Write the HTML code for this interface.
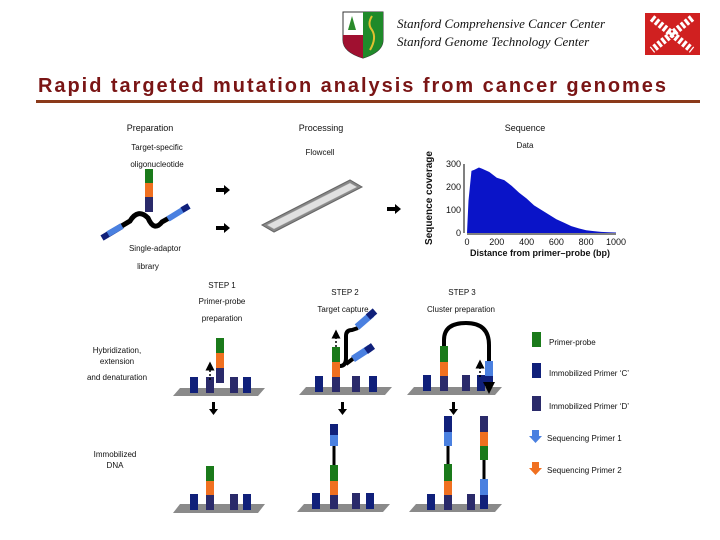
<!DOCTYPE html>
<html><head><meta charset="utf-8"><style>
html,body{margin:0;padding:0;background:#fff;width:720px;height:540px;overflow:hidden}
svg{display:block}
text{font-family:"Liberation Sans",sans-serif;font-size:9px;fill:#111}
</style></head><body>
<svg width="720" height="540" viewBox="0 0 720 540">
<g>
<path d="M343,12 L383,12 L383,40 Q383,52 363,58 Q343,52 343,40 Z" fill="#fff" stroke="#333" stroke-width="1"/>
<path d="M363,12 L383,12 L383,40 Q383,52 363,58 Z" fill="#1f8a2a"/>
<path d="M343,35 L363,35 L363,58 Q343,52 343,40 Z" fill="#a01030"/>
<path d="M372,16 q-5,8 0,14 q5,8 -2,20" stroke="#e0c030" stroke-width="2" fill="none"/>
<path d="M352,16 l-4,14 h8 z" fill="#2a8a2a"/>
</g>
<text x="397" y="28" style="font-family:'Liberation Serif',serif;font-style:italic;font-size:13px">Stanford Comprehensive Cancer Center</text>
<text x="397" y="46" style="font-family:'Liberation Serif',serif;font-style:italic;font-size:13px">Stanford Genome Technology Center</text>
<g>
<rect x="645" y="13" width="55" height="42" fill="#d02020"/>
<path d="M652,18 L692,50 M692,18 L652,50" stroke="#fff" stroke-width="7" stroke-dasharray="3 2"/>
</g>
<text x="38" y="92" textLength="628" lengthAdjust="spacing" style="font-size:20px;font-weight:bold;fill:#7a1515">Rapid targeted mutation  analysis from cancer genomes</text>
<rect x="36" y="100" width="664" height="3" fill="#8b3a1a"/>

<text x="150" y="131" text-anchor="middle">Preparation</text>
<text x="321" y="131" text-anchor="middle">Processing</text>
<text x="525" y="131" text-anchor="middle">Sequence</text>
<text x="157" y="150" text-anchor="middle" style="font-size:8px">Target-specific</text>
<text x="157" y="167" text-anchor="middle" style="font-size:8px">oligonucleotide</text>
<text x="320" y="155" text-anchor="middle" style="font-size:8px">Flowcell</text>
<text x="525" y="148" text-anchor="middle" style="font-size:8px">Data</text>

<g>
<rect x="145" y="169" width="8" height="14" fill="#1a7a1a"/>
<rect x="145" y="183" width="8" height="14" fill="#f07020"/>
<rect x="145" y="197" width="8" height="15" fill="#2a2a6a"/>
</g>
<g>
<path d="M115,230 L130,221 Q138,208 148,218 Q154,232 162,222 L178,213" stroke="#000" stroke-width="5" fill="none"/>
<path d="M102,238 L122,226" stroke="#10207a" stroke-width="6"/>
<path d="M108,234 L122,226" stroke="#4a80e0" stroke-width="6"/>
<path d="M168,219 L189,206" stroke="#4a80e0" stroke-width="6"/>
<path d="M182,210 L189,206" stroke="#10207a" stroke-width="6"/>
</g>
<text x="155" y="251" text-anchor="middle" style="font-size:8px">Single-adaptor</text>
<text x="148" y="269" text-anchor="middle" style="font-size:8px">library</text>
<g fill="#000">
<path d="M216,188 h8 v-3 l6,5 l-6,5 v-3 h-8z"/>
<path d="M216,226 h8 v-3 l6,5 l-6,5 v-3 h-8z"/>
<path d="M387,207 h8 v-3 l6,5 l-6,5 v-3 h-8z"/>
</g>
<g>
<path d="M262,225 L350,180 L362,187 L274,232 Z" fill="#888" stroke="#666"/>
<path d="M267,225 L350,183 L357,187 L274,229 Z" fill="#e0e0e0" stroke="#aaa" stroke-width="0.5"/>
</g>

<g id="chart">
<text transform="translate(432,198) rotate(-90)" text-anchor="middle" style="font-size:10px;font-weight:bold">Sequence coverage</text>
<text x="540" y="256" text-anchor="middle" style="font-size:9px;font-weight:bold">Distance from primer–probe (bp)</text>
</g>

<text x="222" y="288" text-anchor="middle" style="font-size:8px">STEP 1</text>
<text x="222" y="304" text-anchor="middle" style="font-size:8px">Primer-probe</text>
<text x="222" y="321" text-anchor="middle" style="font-size:8px">preparation</text>
<text x="345" y="295" text-anchor="middle" style="font-size:8px">STEP 2</text>
<text x="343" y="312" text-anchor="middle" style="font-size:8px">Target capture</text>
<text x="462" y="295" text-anchor="middle" style="font-size:8px">STEP 3</text>
<text x="461" y="312" text-anchor="middle" style="font-size:8px">Cluster preparation</text>
<text x="117" y="353" text-anchor="middle" style="font-size:8px">Hybridization,</text>
<text x="117" y="364" text-anchor="middle" style="font-size:8px">extension</text>
<text x="117" y="380" text-anchor="middle" style="font-size:8px">and denaturation</text>
<text x="115" y="457" text-anchor="middle" style="font-size:8px">Immobilized</text>
<text x="115" y="468" text-anchor="middle" style="font-size:8px">DNA</text>

<defs>
<marker id="ah" markerWidth="6" markerHeight="6" refX="3" refY="3" orient="auto"><path d="M0,0 L6,3 L0,6z" fill="#000"/></marker>
</defs>

<g>
<path d="M180,388 L265,388 L258,396 L173,396 Z" fill="#8a8a8a"/>
<rect x="190" y="377" width="8" height="16" fill="#10207a"/>
<rect x="206" y="377" width="8" height="16" fill="#2a2a6a"/>
<rect x="230" y="377" width="8" height="16" fill="#2a2a6a"/>
<rect x="243" y="377" width="8" height="16" fill="#10207a"/>
<rect x="216" y="338" width="8" height="15" fill="#1a7a1a"/>
<rect x="216" y="353" width="8" height="15" fill="#f07020"/>
<rect x="216" y="368" width="8" height="15" fill="#2a2a6a"/>
<path d="M210,380 L210,366" stroke="#000" stroke-width="1.5" stroke-dasharray="2 2" marker-end="url(#ah)"/>
</g>
<g>
<path d="M180,504 L265,504 L258,513 L173,513 Z" fill="#8a8a8a"/>
<rect x="190" y="494" width="8" height="16" fill="#10207a"/>
<rect x="206" y="494" width="8" height="16" fill="#2a2a6a"/>
<rect x="230" y="494" width="8" height="16" fill="#2a2a6a"/>
<rect x="243" y="494" width="8" height="16" fill="#10207a"/>
<rect x="206" y="466" width="8" height="15" fill="#1a7a1a"/>
<rect x="206" y="481" width="8" height="14" fill="#f07020"/>
</g>
<g>
<path d="M306,387 L392,387 L385,395 L299,395 Z" fill="#8a8a8a"/>
<rect x="315" y="376" width="8" height="16" fill="#10207a"/>
<rect x="332" y="376" width="8" height="16" fill="#2a2a6a"/>
<rect x="352" y="376" width="8" height="16" fill="#2a2a6a"/>
<rect x="369" y="376" width="8" height="16" fill="#10207a"/>
<rect x="332" y="347" width="8" height="15" fill="#1a7a1a"/>
<rect x="332" y="362" width="8" height="15" fill="#f07020"/>
<path d="M340,366 Q346,366 346,358 L346,336 Q346,330 352,330 L358,328" stroke="#000" stroke-width="4" fill="none"/>
<path d="M346,364 L354,358" stroke="#000" stroke-width="4"/>
<path d="M357,327 L372,314" stroke="#4a80e0" stroke-width="7"/>
<path d="M368,317 L375,311" stroke="#10207a" stroke-width="7"/>
<path d="M353,359 L370,348" stroke="#4a80e0" stroke-width="7"/>
<path d="M366,351 L373,346" stroke="#10207a" stroke-width="7"/>
<path d="M336,347 L336,334" stroke="#000" stroke-width="1.5" stroke-dasharray="2 2" marker-end="url(#ah)"/>
</g>
<g>
<path d="M304,504 L390,504 L383,512 L297,512 Z" fill="#8a8a8a"/>
<rect x="312" y="493" width="8" height="16" fill="#10207a"/>
<rect x="330" y="493" width="8" height="16" fill="#2a2a6a"/>
<rect x="352" y="493" width="8" height="16" fill="#2a2a6a"/>
<rect x="366" y="493" width="8" height="16" fill="#10207a"/>
<rect x="330" y="481" width="8" height="14" fill="#f07020"/>
<rect x="330" y="465" width="8" height="16" fill="#1a7a1a"/>
<rect x="332.5" y="446" width="3" height="19" fill="#000"/>
<rect x="330" y="435" width="8" height="11" fill="#4a80e0"/>
<rect x="330" y="424" width="8" height="11" fill="#10207a"/>
</g>
<g>
<path d="M414,387 L502,387 L495,395 L407,395 Z" fill="#8a8a8a"/>
<rect x="423" y="375" width="8" height="16" fill="#10207a"/>
<rect x="440" y="375" width="8" height="16" fill="#2a2a6a"/>
<rect x="462" y="375" width="8" height="16" fill="#2a2a6a"/>
<rect x="477" y="375" width="8" height="16" fill="#10207a"/>
<rect x="440" y="362" width="8" height="14" fill="#f07020"/>
<rect x="440" y="346" width="8" height="16" fill="#1a7a1a"/>
<path d="M444,346 L444,340 Q444,323 466,323 Q489,323 489,345 L489,361" stroke="#000" stroke-width="4" fill="none"/>
<rect x="485" y="361" width="8" height="15" fill="#4a80e0"/>
<rect x="485" y="376" width="8" height="8" fill="#10207a"/>
<path d="M489,384 L489,388" stroke="#000" stroke-width="2" marker-end="url(#ah)"/>
<path d="M480,377 L480,364" stroke="#000" stroke-width="1.5" stroke-dasharray="2 2" marker-end="url(#ah)"/>
</g>
<g>
<path d="M416,504 L502,504 L495,512 L409,512 Z" fill="#8a8a8a"/>
<rect x="427" y="494" width="8" height="16" fill="#10207a"/>
<rect x="444" y="495" width="8" height="15" fill="#2a2a6a"/>
<rect x="467" y="494" width="8" height="16" fill="#2a2a6a"/>
<rect x="444" y="481" width="8" height="14" fill="#f07020"/>
<rect x="444" y="464" width="8" height="17" fill="#1a7a1a"/>
<rect x="446.5" y="446" width="3" height="18" fill="#000"/>
<rect x="444" y="432" width="8" height="14" fill="#4a80e0"/>
<rect x="444" y="416" width="8" height="16" fill="#10207a"/>
<rect x="480" y="495" width="8" height="14" fill="#10207a"/>
<rect x="480" y="479" width="8" height="16" fill="#4a80e0"/>
<rect x="482.5" y="460" width="3" height="19" fill="#000"/>
<rect x="480" y="446" width="8" height="14" fill="#1a7a1a"/>
<rect x="480" y="432" width="8" height="14" fill="#f07020"/>
<rect x="480" y="416" width="8" height="16" fill="#2a2a6a"/>
</g>
<g fill="#000">
<path d="M212,402 h3 v7 h3 l-4.5,6 l-4.5,-6 h3z"/>
<path d="M341,402 h3 v7 h3 l-4.5,6 l-4.5,-6 h3z"/>
<path d="M452,402 h3 v7 h3 l-4.5,6 l-4.5,-6 h3z"/>
</g>

<g>
<rect x="532" y="332" width="9" height="15" fill="#1a7a1a"/>
<text x="549" y="345" style="font-size:8px">Primer-probe</text>
<rect x="532" y="363" width="9" height="15" fill="#10207a"/>
<text x="549" y="376" style="font-size:8px">Immobilized Primer ‘C’</text>
<rect x="532" y="396" width="9" height="15" fill="#2a2a6a"/>
<text x="549" y="409" style="font-size:8px">Immobilized Primer ‘D’</text>
<path d="M532,430 h7 v6 h3 l-6.5,7 l-6.5,-7 h3z" fill="#4a80e0"/>
<text x="547" y="441" style="font-size:8px">Sequencing Primer 1</text>
<path d="M532,462 h7 v6 h3 l-6.5,7 l-6.5,-7 h3z" fill="#f07020"/>
<text x="547" y="473" style="font-size:8px">Sequencing Primer 2</text>
</g>
</svg>
<script>
const positionsBp = [0,10,30,50,80,100,150,200,250,300,350,400,450,500,550,600,650,700,750,800,850,900,950,1000];
const coverage = [0,140,270,275,285,280,265,240,230,205,175,150,120,100,80,60,45,30,20,12,8,5,3,2];
const xTicks = [0,200,400,600,800,1000];
const yTicks = [0,100,200,300];
(function(){
  const NS='http://www.w3.org/2000/svg';
  const g=document.getElementById('chart');
  const x=v=>467+(v/1000)*149;
  const y=v=>233-(v/300)*69;
  let d='M'+x(positionsBp[0])+','+y(0);
  positionsBp.forEach((p,i)=>{d+=' L'+x(p)+','+y(coverage[i]);});
  d+=' L'+x(positionsBp[positionsBp.length-1])+','+y(0)+' Z';
  const area=document.createElementNS(NS,'path');
  area.setAttribute('d',d);area.setAttribute('fill','#0a14c8');
  
  
  g.appendChild(area);
  const ax=document.createElementNS(NS,'path');
  ax.setAttribute('d','M464,'+y(300)+' L464,'+y(0)+' M467,'+(y(0)+1)+' L'+x(1000)+','+(y(0)+1));
  ax.setAttribute('stroke','#000');ax.setAttribute('stroke-width','1');
  
  
  g.appendChild(ax);
  yTicks.forEach(v=>{
    const t=document.createElementNS(NS,'text');
    t.setAttribute('x',461);t.setAttribute('y',y(v)+3);t.setAttribute('text-anchor','end');
    t.setAttribute('style','font-size:9px');t.textContent=v;
    
    
    g.appendChild(t);
  });
  xTicks.forEach(v=>{
    const t=document.createElementNS(NS,'text');
    t.setAttribute('x',x(v));t.setAttribute('y',y(0)+12);t.setAttribute('text-anchor','middle');
    t.setAttribute('style','font-size:9px');t.textContent=v;
    
    
    g.appendChild(t);
  });
})();
</script>
</body></html>
